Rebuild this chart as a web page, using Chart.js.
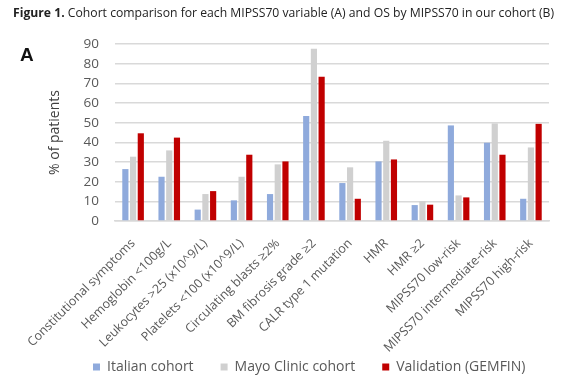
<!DOCTYPE html>
<html>
<head>
<meta charset="utf-8">
<script src="https://cdn.jsdelivr.net/npm/chart.js@4.4.0/dist/chart.umd.min.js"></script>
<style>
  html, body { margin: 0; padding: 0; background: #fff; }
  #wrap { position: relative; width: 583px; height: 382px; overflow: hidden; }
  #title { position: absolute; left: 13px; top: 4px; font-family: "Open Sans", sans-serif; font-size: 12.2px; color: #222; white-space: nowrap; }
  #title b { font-weight: 700; }
  #panel { position: absolute; left: 20px; top: 44px; font-family: "Liberation Sans", Arial, sans-serif; font-size: 19px; font-weight: bold; color: #111; }
  canvas { position: absolute; left: 0; top: 0; }
</style>
</head>
<body>
<div id="wrap">
  <canvas id="c" width="583" height="382"></canvas>
  <div id="title"><b>Figure 1.</b> Cohort comparison for each MIPSS70 variable (A) and OS by MIPSS70 in our cohort (B)</div>
  <div id="panel">A</div>
</div>
<script>
const categories = [
  "Constitutional symptoms",
  "Hemoglobin <100g/L",
  "Leukocytes >25 (x10^9/L)",
  "Platelets <100 (x10^9/L)",
  "Circulating blasts \u22652%",
  "BM fibrosis grade \u22652",
  "CALR type 1 mutation",
  "HMR",
  "HMR \u22652",
  "MIPSS70 low-risk",
  "MIPSS70 intermediate-risk",
  "MIPSS70 high-risk"
];
const italianCohort = [26.4, 22.5, 5.8, 10.5, 13.7, 53.4, 19.3, 30.3, 8.1, 48.6, 39.8, 11.3];
const mayoCohort    = [32.7, 35.9, 13.7, 22.5, 28.8, 87.6, 27.3, 40.8, 10.0, 13.0, 49.6, 37.4];
const validation    = [44.6, 42.4, 15.2, 33.7, 30.3, 73.4, 11.3, 31.3, 8.3, 12.0, 33.7, 49.4];
const yTicks = [0, 10, 20, 30, 40, 50, 60, 70, 80, 90];

const legendShift = {
  id: 'legendShift',
  afterLayout(chart) {
    const lg = chart.legend;
    if (lg) {
      lg.left = 66;
      lg.right = 660;
      lg.top = 333;
    }
    chart.scales.x.bottom = chart.height;
  }
};

new Chart(document.getElementById('c'), {
  type: 'bar',
  data: {
    labels: categories,
    datasets: [
      { label: 'Italian cohort', data: italianCohort, backgroundColor: '#8faadc' },
      { label: 'Mayo Clinic cohort', data: mayoCohort, backgroundColor: '#d0d0d0' },
      { label: 'Validation (GEMFIN)', data: validation, backgroundColor: '#c00000' }
    ]
  },
  options: {
    responsive: false,
    animation: false,
    layout: { padding: { left: 0, right: 34, top: 44, bottom: 0 } },
    datasets: { bar: { categoryPercentage: 0.64, barPercentage: 0.8 } },
    plugins: {
      tooltip: { enabled: false },
      legend: {
        position: 'bottom',
        align: 'start',
        labels: {
          boxWidth: 7, boxHeight: 7, padding: 27,
          color: '#595959',
          font: { family: 'Open Sans', size: 14 }
        }
      }
    },
    scales: {
      x: {
        grid: { display: false, drawTicks: false },
        border: { display: true, color: '#d9d9d9', width: 1.5 },
        ticks: {
          autoSkip: false, minRotation: 45, maxRotation: 45, padding: 15,
          color: '#595959', font: { family: 'Open Sans', size: 12.5 }
        },
        afterFit(scale) { scale.height = 110; }
      },
      y: {
        min: 0, max: 90,
        afterBuildTicks(scale) { scale.ticks = yTicks.map(v => ({ value: v })); },
        grid: { color: '#d9d9d9', lineWidth: 1.5, drawTicks: false },
        border: { display: false },
        ticks: { autoSkip: false, padding: 16, color: '#595959', font: { family: 'Open Sans', size: 13.5 } },
        title: {
          display: true, text: '% of patients', color: '#404040',
          font: { family: 'Open Sans', size: 14 },
          padding: { top: 47, bottom: 0 }
        },
        afterFit(scale) { scale.width = 115; }
      }
    }
  },
  plugins: [legendShift]
});
</script>
</body>
</html>
